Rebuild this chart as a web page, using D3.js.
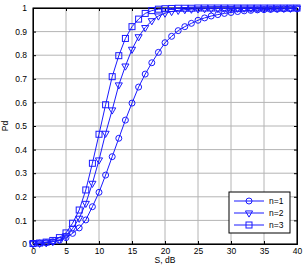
<!DOCTYPE html>
<html>
<head>
<meta charset="utf-8">
<script src="https://cdn.jsdelivr.net/npm/d3@7"></script>
<style>
body { margin: 0; background: #fff; overflow: hidden; }
text { font-family: "Liberation Sans", Arial, sans-serif; font-size: 8.5px; fill: #000; }
</style>
</head>
<body>
<svg id="chart" width="303" height="265"></svg>
<script>
// valores, S en dB de 0 a 40
var snr = d3.range(0, 41);
var pd_n1 = [0.003,0.004,0.006,0.01,0.016,0.027,0.045,0.068,0.102,0.158,0.219,0.292,0.37,0.448,0.525,0.597,0.665,0.72,0.768,0.812,0.853,0.88,0.904,0.921,0.935,0.948,0.958,0.966,0.972,0.977,0.981,0.985,0.988,0.99,0.992,0.993,0.994,0.995,0.996,0.997,0.997];
var pd_n2 = [0.001,0.003,0.005,0.01,0.018,0.035,0.066,0.109,0.172,0.257,0.356,0.469,0.568,0.674,0.754,0.825,0.878,0.917,0.946,0.966,0.978,0.985,0.99,0.993,0.995,0.996,0.997,0.997,0.998,0.998,0.998,0.999,0.999,0.999,0.999,0.999,0.999,0.999,0.999,0.999,0.999];
var pd_n3 = [0.002,0.004,0.008,0.015,0.027,0.047,0.088,0.144,0.229,0.342,0.465,0.59,0.709,0.798,0.871,0.921,0.953,0.977,0.989,0.995,0.997,0.998,0.999,0.999,0.999,1,1,1,1,1,1,1,1,1,1,1,1,1,1,1,1];
var nombres = ["n=1","n=2","n=3"];
var xticks = d3.range(0, 41, 5);
var yticks = d3.range(0, 11).map(function(d){ return d/10; });

var margen = {left: 33, right: 297, top: 8, bottom: 244};
var svg = d3.select("#chart");
var x = d3.scaleLinear().domain([0, 40]).range([margen.left, margen.right]);
var y = d3.scaleLinear().domain([0, 1]).range([margen.bottom, margen.top]);
var azul = "#1a1aff";

// rejilla
svg.append("g").selectAll("line").data(xticks).enter().append("line")
	.attr("x1", function(d){ return x(d); }).attr("x2", function(d){ return x(d); })
	.attr("y1", margen.top).attr("y2", margen.bottom)
	.attr("stroke", "#b4b4b4").attr("stroke-width", 1);
svg.append("g").selectAll("line").data(yticks).enter().append("line")
	.attr("y1", function(d){ return y(d); }).attr("y2", function(d){ return y(d); })
	.attr("x1", margen.left).attr("x2", margen.right)
	.attr("stroke", "#b4b4b4").attr("stroke-width", 1);

// ejes con ticks hacia dentro
var xAxis = d3.axisBottom(x).tickValues(xticks).tickSize(-3).tickPadding(3.5).tickFormat(d3.format("d"));
var yAxis = d3.axisLeft(y).tickValues(yticks).tickSize(-3).tickPadding(6).tickFormat(function(d){ return d==0||d==1 ? d : d3.format(".1f")(d); });
svg.append("g").attr("transform", "translate(0,"+margen.bottom+")").call(xAxis);
svg.append("g").attr("transform", "translate("+margen.left+",0)").call(yAxis);
svg.append("g").attr("transform", "translate(0,"+margen.top+")")
	.call(d3.axisTop(x).tickValues(xticks).tickSize(-3).tickFormat(""));
svg.append("g").attr("transform", "translate("+margen.right+",0)")
	.call(d3.axisRight(y).tickValues(yticks).tickSize(-3).tickFormat(""));
svg.selectAll(".domain").attr("stroke", "#000");
svg.selectAll(".tick line").attr("stroke", "#000");
svg.selectAll(".tick text").style("font-size", "8.5px").style("font-family", "Liberation Sans, Arial, sans-serif");

svg.append("rect").attr("x", margen.left).attr("y", margen.top)
	.attr("width", margen.right-margen.left).attr("height", margen.bottom-margen.top)
	.attr("fill", "none").attr("stroke", "#000").attr("stroke-width", 1);

// etiquetas
svg.append("text").attr("x", (margen.left+margen.right)/2).attr("y", 263)
	.attr("text-anchor", "middle").text("S, dB");
svg.append("text").attr("transform", "translate(8,"+((margen.top+margen.bottom)/2)+") rotate(-90)")
	.attr("text-anchor", "middle").text("Pd");

var triangulo = d3.symbol().type(d3.symbolTriangle).size(22);
function marcador(g, tipo, cx, cy) {
	if (tipo == 0) {
		g.append("circle").attr("cx", cx).attr("cy", cy).attr("r", 3);
	} else if (tipo == 1) {
		g.append("path").attr("d", triangulo())
			.attr("transform", "translate("+cx+","+cy+") rotate(180)");
	} else {
		g.append("rect").attr("x", cx-3).attr("y", cy-3).attr("width", 6).attr("height", 6);
	}
}

var series = [pd_n1, pd_n2, pd_n3];
var linea = d3.line().x(function(d, i){ return x(snr[i]); }).y(function(d){ return y(d); });
series.forEach(function(serie, k) {
	svg.append("path").datum(serie).attr("d", linea)
		.attr("fill", "none").attr("stroke", azul).attr("stroke-width", 1);
	var g = svg.append("g").attr("fill", "none").attr("stroke", azul).attr("stroke-width", 1);
	serie.forEach(function(d, i) { marcador(g, k, x(snr[i]), y(d)); });
});

// leyenda
var ley = svg.append("g");
ley.append("rect").attr("x", 229).attr("y", 192).attr("width", 61).attr("height", 41)
	.attr("fill", "#fff").attr("stroke", "#000");
nombres.forEach(function(nom, k) {
	var yy = 201 + k*12;
	ley.append("line").attr("x1", 234).attr("x2", 264).attr("y1", yy).attr("y2", yy)
		.attr("stroke", azul).attr("stroke-width", 1);
	var g = ley.append("g").attr("fill", "none").attr("stroke", azul);
	marcador(g, k, 249, yy);
	ley.append("text").attr("x", 269).attr("y", yy+3).text(nom);
});
</script>
</body>
</html>
